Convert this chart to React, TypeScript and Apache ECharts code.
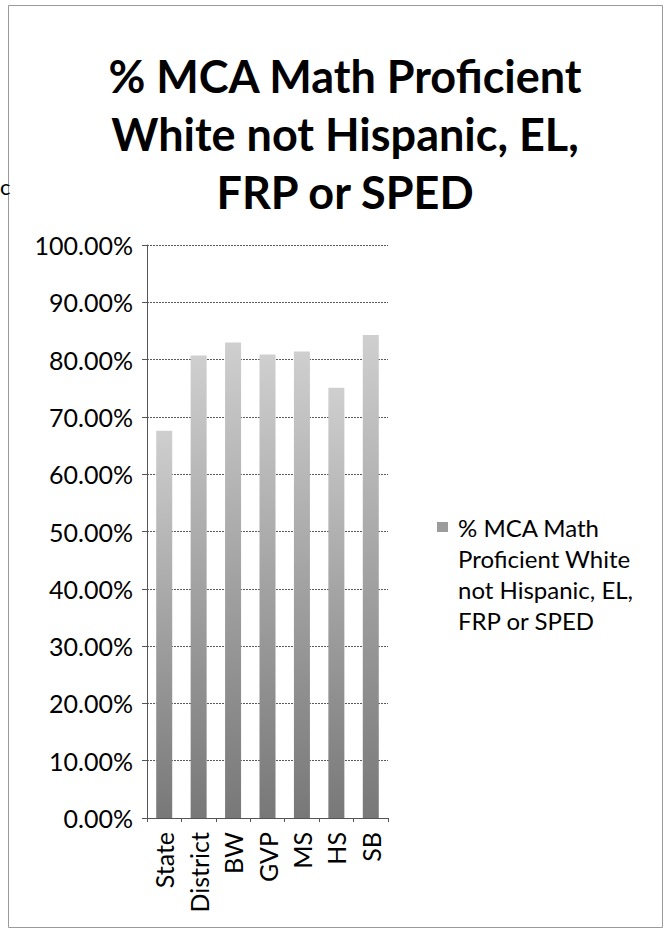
import React, { useEffect, useRef } from "react";
import * as echarts from "echarts";

const categories = ["State", "District", "BW", "GVP", "MS", "HS", "SB"];
const values = [0.676, 0.807, 0.83, 0.809, 0.814, 0.751, 0.843];
const seriesName = "% MCA Math Proficient White not Hispanic, EL, FRP or SPED";
const titleLines = ["% MCA Math Proficient", "White not Hispanic, EL,", "FRP or SPED"];
const legendLines = ["% MCA Math", "Proficient White", "not Hispanic, EL,", "FRP or SPED"];
const yMin = 0;
const yMax = 1;
const yStep = 0.1;

const FONT = "Lato, 'DejaVu Sans', sans-serif";

export default function App() {
  const ref = useRef<HTMLDivElement>(null);
  useEffect(() => {
    if (!ref.current) return;
    const chart = echarts.init(ref.current, null, { renderer: "svg" });
    const barFill = new echarts.graphic.LinearGradient(0, 0, 0, 1, [
      { offset: 0, color: "#cfcfcf" },
      { offset: 0.5, color: "#a2a2a2" },
      { offset: 1, color: "#787878" },
    ]);
    chart.setOption({
      animation: false,
      backgroundColor: "#ffffff",
      title: {
        text: titleLines.join("\n"),
        left: 340,
        top: 42,
        textAlign: "center",
        textStyle: {
          fontFamily: FONT,
          fontSize: 45,
          fontWeight: "bold",
          color: "#000",
          lineHeight: 58,
        },
      },
      grid: { left: 147, top: 245, width: 241, height: 573, containLabel: false },
      xAxis: {
        type: "category",
        data: categories,
        axisLine: { show: true, lineStyle: { color: "#555", width: 1 } },
        axisTick: { show: true, alignWithLabel: false, length: 4, lineStyle: { color: "#555" } },
        axisLabel: {
          rotate: 90,
          margin: 14,
          fontFamily: FONT,
          fontSize: 25,
          color: "#000",
          interval: 0,
        },
      },
      yAxis: {
        type: "value",
        min: yMin,
        max: yMax,
        interval: yStep,
        axisLine: { show: true, lineStyle: { color: "#555", width: 1 } },
        axisTick: { show: true, length: 5, lineStyle: { color: "#555" } },
        splitLine: { show: true, lineStyle: { color: "#5a5a5a", width: 1, type: [2, 1] } },
        axisLabel: {
          margin: 14,
          fontFamily: FONT,
          fontSize: 25,
          color: "#000",
          formatter: (v: number) => (v * 100).toFixed(2) + "%",
        },
      },
      series: [
        {
          name: seriesName,
          type: "bar",
          data: values,
          barWidth: 16,
          itemStyle: { color: barFill },
        },
      ],
      graphic: [
        {
          type: "rect",
          shape: { x: 8.5, y: 5.5, width: 654, height: 922 },
          style: { fill: "none", stroke: "#9a9a9a", lineWidth: 1 },
          silent: true,
        },
        {
          type: "text",
          x: 0,
          y: 175,
          style: { text: "c", fontFamily: FONT, fontSize: 22, fill: "#000" },
          silent: true,
        },
        {
          type: "rect",
          shape: { x: 437, y: 522, width: 11, height: 10 },
          style: { fill: "#9c9c9c" },
          silent: true,
        },
        {
          type: "text",
          x: 458,
          y: 512,
          style: {
            text: legendLines.join("\n"),
            fontFamily: FONT,
            fontSize: 24,
            lineHeight: 31,
            fill: "#000",
            verticalAlign: "top",
          },
          silent: true,
        },
      ],
    });
    return () => chart.dispose();
  }, []);
  return (
    <div
      ref={ref}
      style={{ position: "fixed", left: 0, top: 0, width: 668, height: 932 }}
    />
  );
}
